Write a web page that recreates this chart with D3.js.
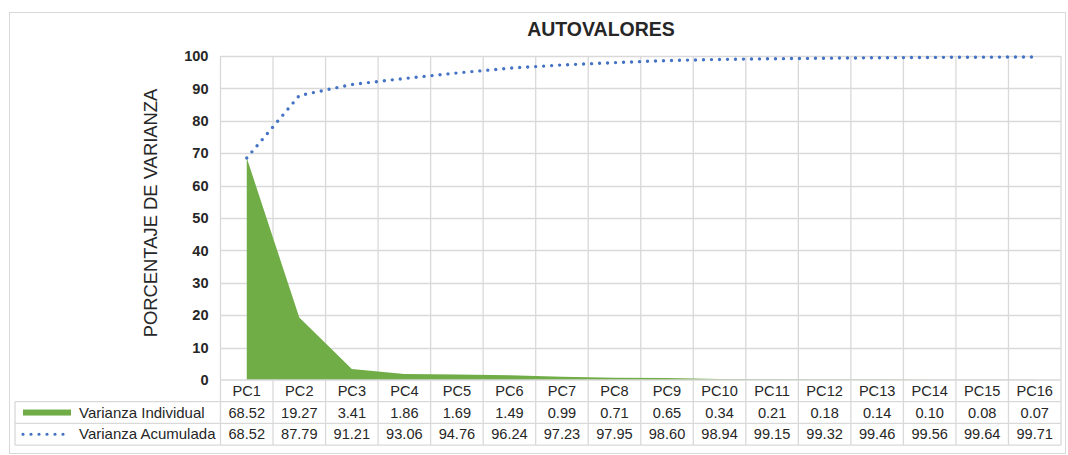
<!DOCTYPE html>
<html>
<head>
<meta charset="utf-8">
<script src="https://cdn.jsdelivr.net/npm/d3@7"></script>
<style>
  html, body { margin: 0; padding: 0; background: #fff; }
  svg { display: block; font-family: "Liberation Sans", Arial, sans-serif; }
</style>
</head>
<body>
<svg id="chart" width="1068" height="455"></svg>
<script>
// Principal components and their explained variance (%)
const categories = ["PC1","PC2","PC3","PC4","PC5","PC6","PC7","PC8","PC9","PC10","PC11","PC12","PC13","PC14","PC15","PC16"];
const individual = [68.52, 19.27, 3.41, 1.86, 1.69, 1.49, 0.99, 0.71, 0.65, 0.34, 0.21, 0.18, 0.14, 0.10, 0.08, 0.07];
const cumulative = [68.52, 87.79, 91.21, 93.06, 94.76, 96.24, 97.23, 97.95, 98.60, 98.94, 99.15, 99.32, 99.46, 99.56, 99.64, 99.71];
const yTicks = [0, 10, 20, 30, 40, 50, 60, 70, 80, 90, 100];
const seriesNames = ["Varianza Individual", "Varianza Acumulada"];

const GREEN = "#70ad47", BLUE = "#4472c4", GRID = "#d9d9d9", TEXT = "#262626";
const FONT = "Liberation Sans, Arial, sans-serif";

const svg = d3.select("#chart");
const plot = { left: 220.5, right: 1061, top: 56, bottom: 380 };
const rowH = 21.7;
const tableLeft = 15;
const tableFont = 14.6;

const x = d3.scaleBand().domain(categories).range([plot.left, plot.right]).padding(0);
const xc = d => x(d) + x.bandwidth() / 2;
const y = d3.scaleLinear().domain([0, 100]).range([plot.bottom, plot.top]);

// chart frame
svg.append("rect")
  .attr("x", 9.5).attr("y", 12.5).attr("width", 1056).attr("height", 441)
  .attr("fill", "#fff").attr("stroke", GRID).attr("stroke-width", 1);

// title
svg.append("text")
  .attr("x", 601).attr("y", 35.5)
  .attr("text-anchor", "middle")
  .attr("font-size", 19.5).attr("font-weight", "bold").attr("fill", TEXT)
  .text("AUTOVALORES");

// horizontal gridlines
svg.append("g").selectAll("line").data(yTicks.filter(t => t > 0)).join("line")
  .attr("x1", plot.left).attr("x2", plot.right)
  .attr("y1", d => Math.round(y(d)) + 0.5).attr("y2", d => Math.round(y(d)) + 0.5)
  .attr("stroke", GRID).attr("stroke-width", 1.3);

// vertical gridlines through plot and table
const bounds = categories.map(c => x(c)).concat([plot.right]);
svg.append("g").selectAll("line").data(bounds).join("line")
  .attr("x1", d => d).attr("x2", d => d)
  .attr("y1", plot.top).attr("y2", plot.bottom + 3 * rowH)
  .attr("stroke", GRID).attr("stroke-width", 1.3);

// y axis
const yAxis = d3.axisLeft(y).tickValues(yTicks).tickSize(0).tickPadding(12);
const gy = svg.append("g").attr("transform", `translate(${plot.left},0)`).call(yAxis);
gy.select(".domain").remove();
gy.selectAll("text").attr("font-size", 14.6).attr("font-weight", "bold").attr("fill", TEXT)
  .attr("font-family", FONT);

// y axis title
svg.append("text")
  .attr("transform", `translate(157,${(plot.top + plot.bottom) / 2 - 5}) rotate(-90)`)
  .attr("text-anchor", "middle")
  .attr("font-size", 18.4).attr("fill", TEXT)
  .text("PORCENTAJE DE VARIANZA");

// individual variance area
const area = d3.area()
  .x((d, i) => xc(categories[i]))
  .y0(y(0))
  .y1(d => y(d));
svg.append("path").datum(individual)
  .attr("d", area).attr("fill", GREEN);

// cumulative variance dotted line
const line = d3.line()
  .x((d, i) => xc(categories[i]))
  .y(d => y(d));
svg.append("path").datum(cumulative)
  .attr("d", line).attr("fill", "none")
  .attr("stroke", BLUE).attr("stroke-width", 3.4)
  .attr("stroke-linecap", "round").attr("stroke-dasharray", "0 8");

// data table grid
const hLines = [
  { y: plot.bottom, x1: plot.left },
  { y: plot.bottom + rowH, x1: tableLeft },
  { y: plot.bottom + 2 * rowH, x1: tableLeft },
  { y: plot.bottom + 3 * rowH, x1: tableLeft }
];
svg.append("g").selectAll("line").data(hLines).join("line")
  .attr("x1", d => d.x1).attr("x2", plot.right)
  .attr("y1", d => d.y).attr("y2", d => d.y)
  .attr("stroke", GRID).attr("stroke-width", 1.3);
svg.append("line")
  .attr("x1", tableLeft).attr("x2", tableLeft)
  .attr("y1", plot.bottom + rowH).attr("y2", plot.bottom + 3 * rowH)
  .attr("stroke", GRID).attr("stroke-width", 1.3);

// category row (x axis)
const xAxis = d3.axisBottom(x).tickSize(0).tickPadding(0);
const gx = svg.append("g").attr("transform", `translate(0,${plot.bottom})`).call(xAxis);
gx.select(".domain").remove();
gx.selectAll("text").attr("dy", null).attr("y", rowH / 2 + 5)
  .attr("font-size", tableFont).attr("fill", TEXT)
  .attr("font-family", FONT);

// value rows
const fmt = d3.format(".2f");
[individual, cumulative].forEach((vals, r) => {
  const cy = plot.bottom + rowH * (r + 1) + rowH / 2 + 5;
  svg.append("g").selectAll("text").data(vals).join("text")
    .attr("x", (d, i) => xc(categories[i]))
    .attr("y", cy)
    .attr("text-anchor", "middle")
    .attr("font-size", tableFont).attr("fill", TEXT)
    .text(d => fmt(d));
  svg.append("text")
    .attr("x", 79).attr("y", cy)
    .attr("font-size", 15).attr("fill", TEXT)
    .text(seriesNames[r]);
});

// legend keys
const k1 = plot.bottom + rowH * 1.5;
svg.append("rect")
  .attr("x", 23).attr("y", k1 - 3).attr("width", 48).attr("height", 6)
  .attr("fill", GREEN);
const k2 = plot.bottom + rowH * 2.5;
svg.append("line")
  .attr("x1", 23).attr("x2", 68).attr("y1", k2).attr("y2", k2)
  .attr("stroke", BLUE).attr("stroke-width", 3.2)
  .attr("stroke-linecap", "round").attr("stroke-dasharray", "0 8");
</script>
</body>
</html>
